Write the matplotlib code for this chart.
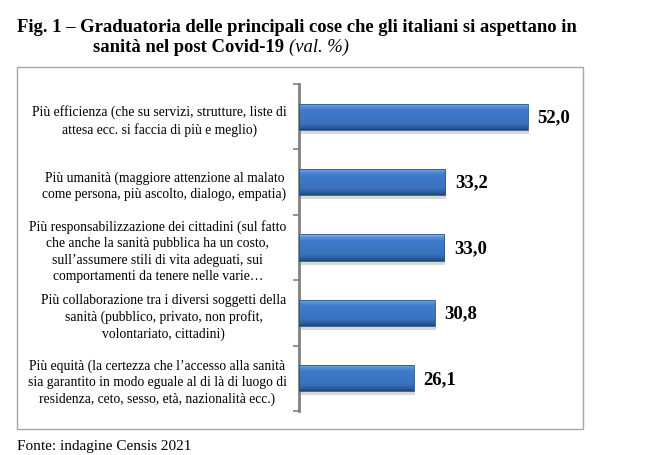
import matplotlib
matplotlib.use("Agg")
import matplotlib.pyplot as plt
import numpy as np
from matplotlib.patches import Rectangle
from matplotlib.colors import LinearSegmentedColormap

categories = [
    "Più efficienza (che su servizi, strutture, liste di\nattesa ecc. si faccia di più e meglio)",
    "Più umanità (maggiore attenzione al malato\ncome persona, più ascolto, dialogo, empatia)",
    "Più responsabilizzazione dei cittadini (sul fatto\nche anche la sanità pubblica ha un costo,\nsull’assumere stili di vita adeguati, sui\ncomportamenti da tenere nelle varie…",
    "Più collaborazione tra i diversi soggetti della\nsanità (pubblico, privato, non profit,\nvolontariato, cittadini)",
    "Più equità (la certezza che l’accesso alla sanità\nsia garantito in modo eguale al di là di luogo di\nresidenza, ceto, sesso, età, nazionalità ecc.)",
]
values = [52.0, 33.2, 33.0, 30.8, 26.1]
value_labels = ["52,0", "33,2", "33,0", "30,8", "26,1"]

W, H = 650, 456
fig = plt.figure(figsize=(W / 100, H / 100), dpi=100)
fig.patch.set_facecolor("white")
serif = ["Liberation Serif", "DejaVu Serif"]

# outer frame
fig.add_artist(Rectangle((17 / W, 1 - 430 / H), (583 - 17) / W, (430 - 68) / H,
                         transform=fig.transFigure, fill=False,
                         edgecolor="#A6A6A6", linewidth=1.0))

ax = fig.add_axes([299 / W, 1 - 412 / H, (563 - 299) / W, (412 - 85) / H])
ax.set_facecolor("none")
y = np.arange(len(categories))
bars = ax.barh(y, values, height=0.40, color="#3C74C0", edgecolor="none", zorder=2)
ax.set_xlim(0, 60)
ax.set_ylim(len(categories) - 0.5, -0.5)

cmap = LinearSegmentedColormap.from_list(
    "bev", [(0.0, "#9CC2EE"), (0.10, "#5B93D8"), (0.25, "#3F7BCB"),
            (0.75, "#3A72BE"), (0.90, "#2F5E9F"), (1.0, "#1F4577")])
grad = np.linspace(0, 1, 64).reshape(-1, 1)
for b in bars:
    x0, y0 = b.get_x(), b.get_y()
    w, h = b.get_width(), b.get_height()
    shadow = Rectangle((x0 + 0.25, y0 + 0.06), w, h, facecolor="#BFBFBF",
                       edgecolor="none", alpha=0.6, zorder=1)
    ax.add_patch(shadow)
    im = ax.imshow(grad, cmap=cmap, aspect="auto", extent=(x0, x0 + w, y0 + h, y0),
                   zorder=3, interpolation="bicubic")
    im.set_clip_path(b)
    edge = Rectangle((x0, y0), w, h, fill=False, edgecolor="#2A5590",
                     linewidth=0.6, zorder=4)
    ax.add_patch(edge)

for yi, v, lab in zip(y, values, value_labels):
    ax.annotate(lab, (v, yi), xytext=(7, 0), textcoords="offset points",
                va="center", ha="left", fontsize=13.5, fontweight="bold",
                family=serif, color="black")

for s in ["top", "right", "bottom"]:
    ax.spines[s].set_visible(False)
ax.spines["left"].set_color("#808080")
ax.spines["left"].set_linewidth(2.0)
ax.set_xticks([])
ax.set_yticks(y)
ax.set_yticklabels(categories, family=serif, fontsize=9.8, multialignment="center",
                   linespacing=1.32)
ax.tick_params(axis="y", which="major", length=0, pad=9)
ax.set_yticks(np.arange(-0.5, len(categories), 1.0), minor=True)
ax.tick_params(axis="y", which="minor", length=4, width=1.2, color="#808080")

# title
t1 = fig.text(17 / W, 1 - 27 / H,
              "Fig. 1 – Graduatoria delle principali cose che gli italiani si aspettano in",
              family=serif, fontsize=13.4, fontweight="bold", va="center", ha="left")
t2 = fig.text(93 / W, 1 - 47 / H, "sanità nel post Covid-19 ",
              family=serif, fontsize=13.4, fontweight="bold", va="center", ha="left")
fig.canvas.draw()
bb = t2.get_window_extent(renderer=fig.canvas.get_renderer())
fig.text(bb.x1 / W, 1 - 47 / H, "(val. %)", family=serif, fontsize=13.4,
         style="italic", va="center", ha="left")

fig.text(17 / W, 1 - 447 / H, "Fonte: indagine Censis 2021", family=serif,
         fontsize=11, va="center", ha="left")

fig.savefig("out.png", dpi=100)
